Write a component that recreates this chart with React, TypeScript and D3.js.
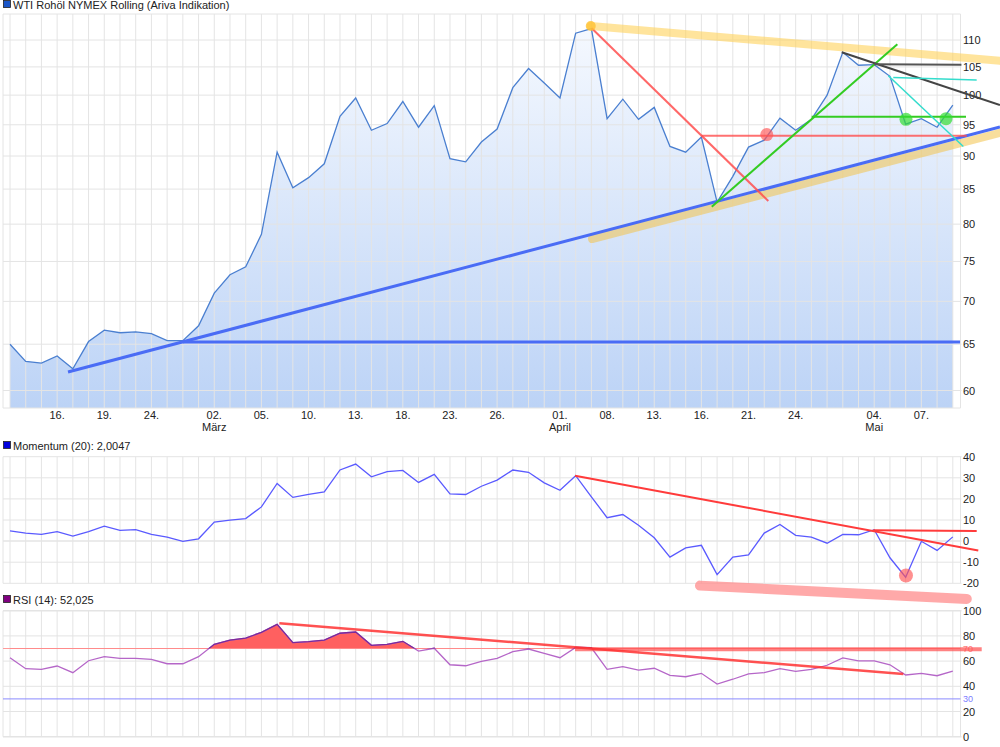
import React from "react";
import * as d3 from "d3";

// ---------- DATA ----------
const prices = [
  65.0, 63.1, 62.9, 63.7, 62.3, 65.3, 66.6, 66.3, 66.4, 66.2,
  65.4, 65.4, 67.1, 71.0, 73.3, 74.3, 78.6, 90.6, 85.2, 86.7,
  88.8, 96.4, 99.5, 94.1, 95.2, 98.9, 94.6, 98.2, 89.6, 89.1,
  92.2, 94.3, 101.3, 104.7, 102.1, 99.5, 111.3, 112.2, 96.0, 99.3,
  95.9, 97.9, 91.5, 90.6, 93.0, 83.1, 86.9, 91.4, 92.5, 96.1,
  94.1, 95.9, 100.0, 107.7, 105.3, 105.4, 103.3, 95.1, 96.0, 94.6,
  98.3,
];

const momentum = [
  4.8, 3.8, 3.2, 4.5, 2.4, 4.5, 7.1, 5.1, 5.4, 3.2,
  1.9, -0.1, 1.1, 9.0, 9.9, 10.7, 16.2, 27.3, 20.7, 22.1,
  23.3, 33.7, 36.5, 30.5, 32.9, 33.5, 27.8, 31.6, 22.4, 22.1,
  26.0, 28.9, 33.7, 32.6, 27.6, 24.1, 31.0, 21.0, 11.1, 12.6,
  7.5, 1.6, -7.6, -3.2, -2.0, -15.9, -7.6, -6.5, 3.8, 7.9,
  2.7, 1.9, -1.0, 3.2, 3.0, 5.4, -7.9, -17.1, -0.1, -4.4,
  2.0,
];

const rsi = [
  62.7, 54.0, 53.5, 56.1, 50.8, 60.3, 63.5, 62.2, 62.2, 61.4,
  57.9, 57.9, 63.5, 73.3, 76.7, 78.3, 82.8, 89.2, 74.6, 75.4,
  76.7, 82.1, 83.1, 72.5, 73.3, 75.7, 68.0, 70.2, 57.1, 56.3,
  59.8, 62.2, 67.5, 69.6, 66.2, 62.7, 70.9, 70.6, 53.5, 55.6,
  52.9, 54.3, 48.7, 47.6, 50.3, 41.8, 45.6, 49.8, 50.8, 54.0,
  51.9, 53.5, 56.7, 62.5, 60.1, 60.1, 57.1, 49.0, 50.3, 48.4,
  52.0,
];

const dateTicks: [number, string][] = [
  [3, "16."], [6, "19."], [9, "24."], [13, "02."], [16, "05."], [19, "10."],
  [22, "13."], [25, "18."], [28, "23."], [31, "26."], [35, "01."], [38, "08."],
  [41, "13."], [44, "16."], [47, "21."], [50, "24."], [55, "04."], [58, "07."],
];
const monthTicks: [number, string][] = [[13, "März"], [35, "April"], [55, "Mai"]];

const priceTicks = [60, 65, 70, 75, 80, 85, 90, 95, 100, 105, 110];
const momTicks = [-20, -10, 0, 10, 20, 30, 40];
const rsiTicks = [0, 20, 40, 60, 80, 100];

const titleMain = "WTI Rohöl NYMEX Rolling (Ariva Indikation)";
const titleMom = "Momentum (20): 2,0047";
const titleRsi = "RSI (14): 52,025";

// annotation lines in data coordinates: [i1, v1, i2, v2]
type Seg = { a: [number, number, number, number]; color: string; w: number; op?: number; cap?: string };
const mainLines: Seg[] = [
  { a: [36.96, 112.7, 63.0, 106.1], color: "#ffd25a", w: 8, op: 0.6, cap: "round" },
  { a: [37.04, 77.97, 63.0, 93.66], color: "#f2c24a", w: 8, op: 0.55, cap: "round" },
  { a: [3.69, 61.95, 63.0, 94.63], color: "#4a6cf5", w: 3 },
  { a: [11.0, 65.26, 60.46, 65.26], color: "#4a6cf5", w: 3 },
  { a: [37.02, 112.25, 48.26, 83.27], color: "#ff4d4d", w: 2, op: 0.85 },
  { a: [44.02, 93.2, 60.89, 93.2], color: "#ff4d4d", w: 2, op: 0.8 },
  { a: [44.66, 82.46, 56.47, 109.2], color: "#33cc22", w: 2 },
  { a: [51.02, 96.34, 60.84, 96.34], color: "#33cc22", w: 2 },
  { a: [52.93, 107.7, 63.0, 98.3], color: "#444444", w: 2 },
  { a: [55.0, 105.5, 60.55, 105.4], color: "#555555", w: 2 },
  { a: [55.9, 103.4, 60.67, 91.5], color: "#33dccc", w: 1.5 },
  { a: [56.21, 103.1, 61.52, 102.65], color: "#33dccc", w: 1.5 },
];
const mainDots: [number, number, number, string, number][] = [
  [36.96, 112.7, 5, "#ffc233", 0.8],
  [48.16, 93.4, 6.5, "#ff5555", 0.65],
  [57.02, 95.9, 6.5, "#33dd33", 0.7],
  [59.57, 96.0, 6.5, "#33dd33", 0.7],
];
const momLines: Seg[] = [
  { a: [43.91, -21.1, 60.89, -27.4], color: "#ff8c8c", w: 10, op: 0.75, cap: "round" },
  { a: [35.96, 30.95, 61.62, -4.43], color: "#ff3b3b", w: 2 },
  { a: [54.94, 5.1, 61.52, 4.8], color: "#ff3b3b", w: 2 },
];
const momDots: [number, number, number, string, number][] = [[57.02, -16.3, 7, "#ff5555", 0.65]];
const rsiLines: Seg[] = [
  { a: [35.96, 69.5, 61.84, 69.5], color: "#ff4d4d", w: 4, op: 0.7 },
  { a: [17.14, 90.0, 56.85, 49.8], color: "#ff3333", w: 2.5, op: 0.85 },
];

// ---------- LAYOUT ----------
const PL = 3, PR = 960.5;
const x = d3.scaleLinear().domain([0, 60]).range([10, 952.8]);
const yP = d3.scaleLog().domain([60, 110]).range([390.5, 40]);
const yM = d3.scaleLinear().domain([-20, 40]).range([583.3, 456.7]);
const yR = d3.scaleLinear().domain([0, 100]).range([736.7, 610.7]);
const idx = d3.range(prices.length);
const FONT = "'Liberation Sans', Arial, sans-serif";
const GRID = "#e4e4e4";

function VGrid({ top, bottom }: { top: number; bottom: number }) {
  return (
    <g>
      {idx.map((i) => (
        <line key={i} x1={x(i)} x2={x(i)} y1={top} y2={bottom} stroke={GRID} strokeWidth={1} />
      ))}
      <line x1={PL} x2={PL} y1={top} y2={bottom} stroke={GRID} />
      <line x1={PR} x2={PR} y1={top} y2={bottom} stroke={GRID} />
    </g>
  );
}

function Segs({ segs, y }: { segs: Seg[]; y: (v: number) => number }) {
  return (
    <g>
      {segs.map((s, k) => (
        <line key={k} x1={x(s.a[0])} y1={y(s.a[1])} x2={x(s.a[2])} y2={y(s.a[3])}
          stroke={s.color} strokeWidth={s.w} strokeOpacity={s.op ?? 1} strokeLinecap={(s.cap as any) ?? "butt"} />
      ))}
    </g>
  );
}

function Dots({ dots, y }: { dots: [number, number, number, string, number][]; y: (v: number) => number }) {
  return (
    <g>
      {dots.map((d, k) => (
        <circle key={k} cx={x(d[0])} cy={y(d[1])} r={d[2]} fill={d[3]} fillOpacity={d[4]} />
      ))}
    </g>
  );
}

function Legend({ y, color, text }: { y: number; color: string; text: string }) {
  return (
    <g>
      <rect x={3.5} y={y - 8.5} width={7} height={7} fill={color} stroke="#222" strokeWidth={0.8} />
      <text x={13} y={y} fontSize={11} fill="#222" fontFamily={FONT}>{text}</text>
    </g>
  );
}

export default function App() {
  const pTop = 14, pBot = 408;
  const areaGen = d3.area<number>().x((i) => x(i)).y0(pBot).y1((i) => yP(prices[i]));
  const lineP = d3.line<number>().x((i) => x(i)).y((i) => yP(prices[i]));
  const lineM = d3.line<number>().x((i) => x(i)).y((i) => yM(momentum[i]));
  const lineR = d3.line<number>().x((i) => x(i)).y((i) => yR(rsi[i]));
  const areaR = d3.area<number>().x((i) => x(i)).y0(yR(70)).y1((i) => yR(rsi[i]));

  return (
    <svg width={1000} height={747} style={{ position: "absolute", left: 0, top: 0, background: "#fff" }}
      fontFamily={FONT}>
      <defs>
        <linearGradient id="pfill" gradientUnits="userSpaceOnUse" x1={0} y1={pTop} x2={0} y2={pBot}>
          <stop offset="0" stopColor="#f7faff" />
          <stop offset="1" stopColor="#bcd3f6" />
        </linearGradient>
        <clipPath id="above70">
          <rect x={0} y={0} width={1000} height={yR(70)} />
        </clipPath>
      </defs>

      {/* ---------- MAIN PANEL ---------- */}
      <Legend y={9} color="#1a56c8" text={titleMain} />
      <path d={areaGen(idx) || ""} fill="url(#pfill)" />
      <VGrid top={pTop} bottom={pBot} />
      <line x1={PL} x2={PR} y1={pTop} y2={pTop} stroke={GRID} />
      <line x1={PL} x2={PR} y1={pBot} y2={pBot} stroke={GRID} />
      {priceTicks.map((t) => (
        <g key={t}>
          <line x1={PL} x2={PR + 1} y1={yP(t)} y2={yP(t)} stroke={GRID} />
          <text x={963} y={yP(t) + 4} fontSize={11} fill="#222">{t}</text>
        </g>
      ))}
      <path d={lineP(idx) || ""} fill="none" stroke="#4a7fd0" strokeWidth={1.3} />
      <Segs segs={mainLines} y={yP} />
      <Dots dots={mainDots} y={yP} />
      {dateTicks.map(([i, l]) => (
        <text key={"d" + i} x={x(i)} y={419} fontSize={11} fill="#222" textAnchor="middle">{l}</text>
      ))}
      {monthTicks.map(([i, l]) => (
        <text key={"m" + i} x={x(i)} y={431} fontSize={11} fill="#222" textAnchor="middle">{l}</text>
      ))}

      {/* ---------- MOMENTUM PANEL ---------- */}
      <Legend y={450} color="#0000dd" text={titleMom} />
      <VGrid top={yM(40)} bottom={yM(-20)} />
      {momTicks.map((t) => (
        <g key={t}>
          <line x1={PL} x2={PR + 1} y1={yM(t)} y2={yM(t)} stroke={GRID} strokeWidth={t === 0 ? 1.5 : 1} />
          <text x={963} y={yM(t) + 4} fontSize={11} fill="#222">{t}</text>
        </g>
      ))}
      <Segs segs={momLines.slice(0, 1)} y={yM} />
      <path d={lineM(idx) || ""} fill="none" stroke="#5a5aff" strokeWidth={1.3} />
      <Segs segs={momLines.slice(1)} y={yM} />
      <Dots dots={momDots} y={yM} />

      {/* ---------- RSI PANEL ---------- */}
      <Legend y={604} color="#800080" text={titleRsi} />
      <VGrid top={yR(100)} bottom={yR(0)} />
      {rsiTicks.map((t) => (
        <g key={t}>
          <line x1={PL} x2={PR + 1} y1={yR(t)} y2={yR(t)} stroke={GRID} strokeWidth={t === 0 || t === 100 ? 1.5 : 1} />
          <text x={963} y={yR(t) + 4} fontSize={11} fill="#222">{t}</text>
        </g>
      ))}
      <line x1={PL} x2={PR} y1={yR(70)} y2={yR(70)} stroke="#ff9a9a" strokeWidth={1} />
      <line x1={PL} x2={PR} y1={yR(30)} y2={yR(30)} stroke="#8a8aff" strokeWidth={1} />
      <text x={963} y={yR(70) + 3} fontSize={9} fill="#ff7b7b">70</text>
      <text x={963} y={yR(30) + 3} fontSize={9} fill="#7b7bff">30</text>
      <path d={areaR(idx) || ""} fill="#ff6060" clipPath="url(#above70)" />
      <path d={lineR(idx) || ""} fill="none" stroke="#b566c8" strokeWidth={1.3} />
      <path d={lineR(idx) || ""} fill="none" stroke="#7a2a9a" strokeWidth={1.3} clipPath="url(#above70)" />
      <Segs segs={rsiLines} y={yR} />
    </svg>
  );
}
